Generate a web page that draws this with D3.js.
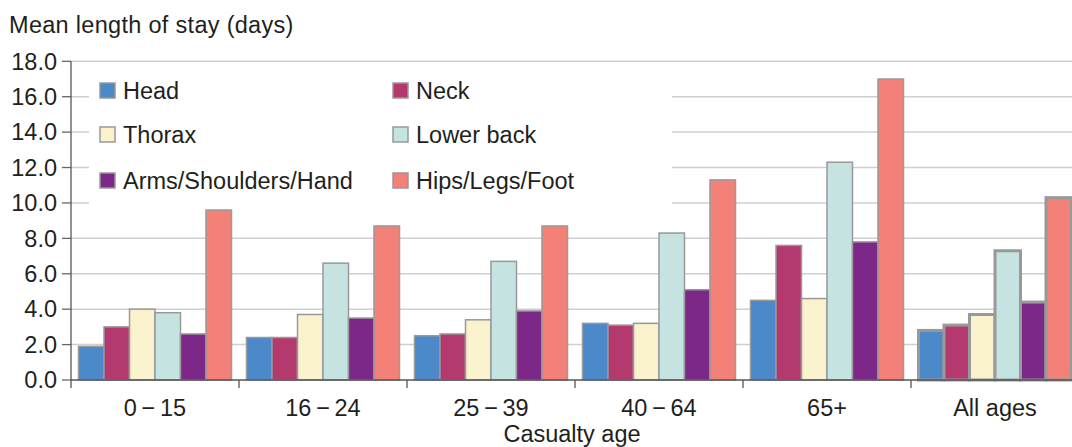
<!DOCTYPE html>
<html><head><meta charset="utf-8">
<script src="https://cdn.jsdelivr.net/npm/d3@7"></script>
<style>body{margin:0;background:#fff;} svg{display:block;font-family:"Liberation Sans",Arial,sans-serif;}</style>
</head><body>
<svg id="c" width="1072" height="447"></svg>
<script>
const categories = ["0\u2009\u2212\u200915", "16\u2009\u2212\u200924", "25\u2009\u2212\u200939", "40\u2009\u2212\u200964", "65+", "All ages"];
const series = ["Head", "Neck", "Thorax", "Lower back", "Arms/Shoulders/Hand", "Hips/Legs/Foot"];
const head     = [1.9, 2.4, 2.5, 3.2, 4.5, 2.8];
const neck     = [3.0, 2.4, 2.6, 3.1, 7.6, 3.1];
const thorax   = [4.0, 3.7, 3.4, 3.2, 4.6, 3.7];
const lowerBack= [3.8, 6.6, 6.7, 8.3, 12.3, 7.3];
const arms     = [2.6, 3.5, 3.9, 5.1, 7.8, 4.4];
const hips     = [9.6, 8.7, 8.7, 11.3, 17.0, 10.3];
const yTicks = [0, 2, 4, 6, 8, 10, 12, 14, 16, 18];
const colors = ["#4b89c8", "#b3396e", "#faf1cd", "#c4e3e1", "#7b2889", "#f48177"];

const values = [head, neck, thorax, lowerBack, arms, hips];
const svg = d3.select("#c");
const textCol = "#231f20";
const fs = 23.5;

const x0 = d3.scaleBand().domain(categories).range([71, 1079]).padding(0);
const x1 = d3.scaleBand().domain(series).range([7.5, x0.bandwidth() - 7.5]).padding(0);
const y = d3.scaleLinear().domain([0, 18]).range([380, 61.3]);

// gridlines
svg.append("g").selectAll("line").data(yTicks.filter(d => d > 0)).join("line")
  .attr("x1", 71).attr("x2", 1072)
  .attr("y1", d => y(d)).attr("y2", d => y(d))
  .attr("stroke", "#cfcfcf").attr("stroke-width", 1.5);

// legend background
svg.append("rect").attr("x", 89).attr("y", 66).attr("width", 583).attr("height", 146).attr("fill", "#fff");

// y ticks
svg.append("g").selectAll("line").data(yTicks).join("line")
  .attr("x1", 62).attr("x2", 71)
  .attr("y1", d => y(d)).attr("y2", d => y(d))
  .attr("stroke", "#666").attr("stroke-width", 1.3);
svg.append("g").selectAll("text").data(yTicks).join("text")
  .attr("x", 57).attr("y", d => y(d) + 8.3)
  .attr("text-anchor", "end").attr("font-size", fs).attr("fill", textCol)
  .text(d => d3.format(".1f")(d));

// bars
const groups = svg.append("g").selectAll("g").data(categories).join("g")
  .attr("transform", d => `translate(${x0(d)},0)`);
groups.each(function(cat, ci) {
  const sw = ci === categories.length - 1 ? 3 : 1.5;
  d3.select(this).selectAll("rect").data(series).join("rect")
    .attr("x", s => x1(s))
    .attr("y", (s, si) => y(values[si][ci]))
    .attr("width", x1.bandwidth())
    .attr("height", (s, si) => y(0) - y(values[si][ci]))
    .attr("fill", (s, si) => colors[si])
    .attr("stroke", "#999").attr("stroke-width", sw);
});

// axes lines
svg.append("line").attr("x1", 71).attr("x2", 1072).attr("y1", y(0)).attr("y2", y(0))
  .attr("stroke", "#555").attr("stroke-width", 1.5);
svg.append("line").attr("x1", 71).attr("x2", 71).attr("y1", y(18)).attr("y2", 388)
  .attr("stroke", "#555").attr("stroke-width", 1.3);
svg.append("g").selectAll("line").data(categories.slice(1)).join("line")
  .attr("x1", d => x0(d)).attr("x2", d => x0(d))
  .attr("y1", y(0)).attr("y2", 388)
  .attr("stroke", "#555").attr("stroke-width", 1.3);

// category labels
svg.append("g").selectAll("text").data(categories).join("text")
  .attr("x", d => x0(d) + x0.bandwidth() / 2).attr("y", 416)
  .attr("text-anchor", "middle").attr("font-size", fs).attr("fill", textCol)
  .text(d => d);

// axis titles
svg.append("text").attr("x", 572).attr("y", 442).attr("text-anchor", "middle")
  .attr("font-size", fs).attr("fill", textCol).text("Casualty age");
svg.append("text").attr("x", 9).attr("y", 33).attr("letter-spacing", 0.3)
  .attr("font-size", fs).attr("fill", textCol).text("Mean length of stay (days)");

// legend
const legendPos = [[100, 83], [393, 83], [100, 127], [393, 127], [100, 173], [393, 173]];
const lg = svg.append("g").selectAll("g").data(series).join("g")
  .attr("transform", (d, i) => `translate(${legendPos[i][0]},${legendPos[i][1]})`);
lg.append("rect").attr("width", 15).attr("height", 15)
  .attr("fill", (d, i) => colors[i]).attr("stroke", "#999").attr("stroke-width", 1.5);
lg.append("text").attr("x", 23).attr("y", 15.5).attr("font-size", fs).attr("fill", textCol).text(d => d);
</script>
</body></html>
